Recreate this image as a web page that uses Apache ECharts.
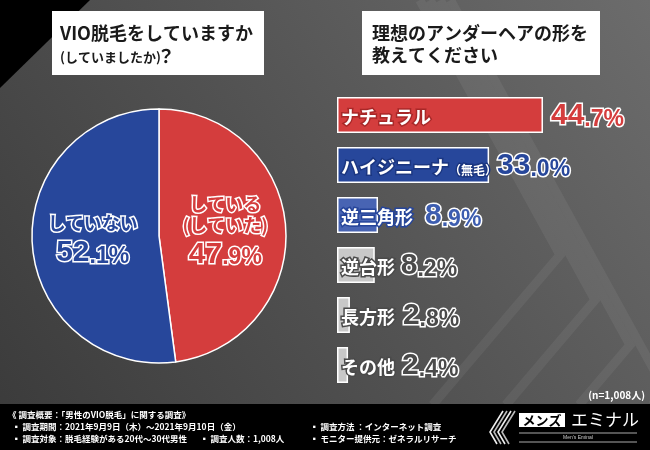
<!DOCTYPE html>
<html><head><meta charset="utf-8">
<script src="https://cdn.jsdelivr.net/npm/echarts@6/dist/echarts.min.js"></script>
<style>html,body{margin:0;padding:0;background:#4a4a4a}#c{width:650px;height:450px}</style>
</head><body><div id="c"></div>
<script>
// ---- data ----
const pieCategories = ['している\n(していた)', 'していない'];
const pieValues = [47.9, 52.1];
const barCategories = ['ナチュラル', 'ハイジニーナ（無毛）', '逆三角形', '逆台形', '長方形', 'その他'];
const barValues = [44.7, 33.0, 8.9, 8.2, 2.8, 2.4];
const sampleNote = '(n=1,008人)';
const leftTitle = ['VIO脱毛をしていますか', '(していましたか)', '？'];
const rightTitle = ['理想のアンダーヘアの形を', '教えてください'];
const footerLines = [
  '《 調査概要：「男性のVIO脱毛」に関する調査》',
  '▪ 調査期間：2021年9月9日（木）～2021年9月10日（金）',
  '▪ 調査対象：脱毛経験がある20代～30代男性',
  '▪ 調査人数：1,008人',
  '▪ 調査方法 ：インターネット調査',
  '▪ モニター提供元：ゼネラルリサーチ'
];

// ---- styles ----
const JP = '"Noto Sans CJK JP", sans-serif';
const NUM = '"Liberation Sans", "Noto Sans CJK JP", sans-serif';
const pieColors = ['#d43d3d', '#27479b'];
const barColors = ['#d43d3d', '#27479b', '#4864b3', '#c8c8c8', '#c8c8c8', '#c8c8c8'];
const nameStroke = ['#a82828', '#1b3680', '#26459a', '#4a4a4a', '#4a4a4a', '#4a4a4a'];
const valueFill = ['#d43d3d', '#27479b', '#3d5db0', '#4a4a4a', '#4a4a4a', '#4a4a4a'];
const valueGap = [8, 8, 47, 26, 53, 54];

function splitNum(v) {
  const s = v.toFixed(1).split('.');
  return [s[0], '.' + s[1] + '%'];
}

const pieRich = {};
pieColors.forEach((c, i) => {
  pieRich['n' + i] = {color: c, fontSize: 18, fontWeight: 'bold', fontFamily: JP, textBorderColor: '#fff', textBorderWidth: 3, lineHeight: 21};
  pieRich['b' + i] = {color: c, fontSize: 30, fontWeight: 'bold', fontFamily: NUM, textBorderColor: '#fff', textBorderWidth: 3, lineHeight: 34, verticalAlign: 'bottom'};
  pieRich['d' + i] = {color: c, fontSize: 23, fontWeight: 'bold', fontFamily: NUM, textBorderColor: '#fff', textBorderWidth: 3, lineHeight: 34, verticalAlign: 'bottom'};
});
const nameRich = {};
const valRich = {};
barCategories.forEach((c, i) => {
  nameRich['n' + i] = {color: '#fff', fontSize: 18, fontWeight: 'bold', fontFamily: JP, textBorderColor: nameStroke[i], textBorderWidth: 3, verticalAlign: 'bottom', lineHeight: 22};
  nameRich['s' + i] = {color: '#fff', fontSize: 12, fontWeight: 'bold', fontFamily: JP, textBorderColor: nameStroke[i], textBorderWidth: 3, verticalAlign: 'bottom', lineHeight: 22};
  valRich['i' + i] = {color: valueFill[i], fontSize: 30, fontWeight: 'bold', fontFamily: NUM, textBorderColor: '#fff', textBorderWidth: 3, verticalAlign: 'bottom', lineHeight: 32};
  valRich['d' + i] = {color: valueFill[i], fontSize: 23, fontWeight: 'bold', fontFamily: NUM, textBorderColor: '#fff', textBorderWidth: 3, verticalAlign: 'bottom', lineHeight: 32};
});

// background decorations
const deco = [];
deco.push({type: 'rect', z: -100, silent: true, shape: {x: 0, y: 0, width: 650, height: 450},
  style: {fill: {type: 'linear', x: 1, y: 0, x2: 0, y2: 1, colorStops: [{offset: 0, color: '#6c6c6c'}, {offset: 0.55, color: '#505050'}, {offset: 1, color: '#3a3a3a'}]}}});
for (let k = 0; k < 4; k++) {
  const vx = 560 + 35 * k, vy = 255 + 45 * k;
  deco.push({type: 'polyline', z: -90, silent: true,
    shape: {points: [[vx - 0.55 * vy, 0], [vx, vy], [vx - 0.85 * (405 - vy), 405]]},
    style: {stroke: 'rgba(255,255,255,0.06)', lineWidth: 9, fill: null}});
}
deco.push({type: 'polygon', z: -80, silent: true, shape: {points: [[0, 0], [90, 0], [0, 88]]}, style: {fill: '#000'}});
// title boxes
deco.push({type: 'rect', shape: {x: 52, y: 11, width: 212, height: 64}, style: {fill: '#fff'}});
deco.push({type: 'text', x: 60, y: 33, style: {text: leftTitle[0], fontSize: 18, fontWeight: 'bold', fontFamily: JP, fill: '#1a1a1a', verticalAlign: 'middle'}});
deco.push({type: 'text', x: 60, y: 57, style: {text: leftTitle[1], fontSize: 13, fontWeight: 'bold', fontFamily: JP, fill: '#1a1a1a', verticalAlign: 'middle'}});
deco.push({type: 'text', x: 157, y: 56, style: {text: leftTitle[2], fontSize: 18, fontWeight: 'bold', fontFamily: JP, fill: '#1a1a1a', verticalAlign: 'middle'}});
deco.push({type: 'rect', shape: {x: 362, y: 11, width: 238, height: 64}, style: {fill: '#fff'}});
deco.push({type: 'text', x: 372, y: 33, style: {text: rightTitle[0], fontSize: 18, fontWeight: 'bold', fontFamily: JP, fill: '#1a1a1a', verticalAlign: 'middle'}});
deco.push({type: 'text', x: 372, y: 55, style: {text: rightTitle[1], fontSize: 18, fontWeight: 'bold', fontFamily: JP, fill: '#1a1a1a', verticalAlign: 'middle'}});
// n note
deco.push({type: 'text', x: 645, y: 395, style: {text: sampleNote, fontSize: 10, fontWeight: 'bold', fontFamily: JP, fill: '#fff', align: 'right', verticalAlign: 'middle'}});
// footer
deco.push({type: 'rect', shape: {x: 0, y: 404, width: 650, height: 46}, style: {fill: '#000'}});
const footPos = [[8, 415], [12, 427], [12, 439], [200, 439], [310, 427], [310, 439]];
footerLines.forEach((t, i) => {
  deco.push({type: 'text', x: footPos[i][0], y: footPos[i][1], style: {text: t, fontSize: 8.5, fontWeight: 'bold', fontFamily: JP, fill: '#fff', verticalAlign: 'middle'}});
});
// logo
for (let k = 0; k < 4; k++) {
  deco.push({type: 'polyline', shape: {points: [[503 + 4 * k, 411], [490 + 4 * k, 432], [497 + 4 * k, 444]]}, style: {stroke: k % 2 ? '#bbb' : '#eee', lineWidth: 1.6, fill: null}});
}
deco.push({type: 'rect', shape: {x: 519, y: 413, width: 46, height: 14}, style: {fill: '#fff'}});
deco.push({type: 'text', x: 542, y: 420, style: {text: 'メンズ', fontSize: 13, fontWeight: 'bold', fontFamily: JP, fill: '#000', align: 'center', verticalAlign: 'middle'}});
deco.push({type: 'text', x: 571, y: 420, style: {text: 'エミナル', fontSize: 17, fontFamily: JP, fill: '#fff', verticalAlign: 'middle'}});
deco.push({type: 'line', shape: {x1: 519, y1: 433, x2: 637, y2: 433}, style: {stroke: '#aaa', lineWidth: 1}});
deco.push({type: 'text', x: 578, y: 438, style: {text: "Men's Eminal", fontSize: 5, fontFamily: NUM, fill: '#ccc', align: 'center', verticalAlign: 'middle'}});
deco.push({type: 'line', shape: {x1: 519, y1: 442, x2: 637, y2: 442}, style: {stroke: '#aaa', lineWidth: 1}});

const chart = echarts.init(document.getElementById('c'), null, {renderer: 'canvas'});
chart.setOption({
  animation: false,
  graphic: deco,
  grid: {left: 337, top: 90, width: 276.5, height: 300, containLabel: false},
  xAxis: {type: 'value', min: 0, max: 60, show: false},
  yAxis: {
    type: 'category', inverse: true, data: barCategories, z: 10,
    axisLine: {show: false}, axisTick: {show: false}, splitLine: {show: false},
    axisLabel: {
      inside: true, margin: 4, rich: nameRich,
      formatter: (v, idx) => {
        const m = v.match(/^(.*?)(（.*）)?$/);
        return '{n' + idx + '|' + m[1] + '}' + (m[2] ? '{s' + idx + '|' + m[2] + '}' : '');
      }
    }
  },
  series: [
    {
      type: 'pie', center: [159, 236], radius: 127, startAngle: 90, clockwise: true,
      silent: true, labelLine: {show: false},
      itemStyle: {borderColor: '#fff', borderWidth: 1.5},
      label: {show: true, position: 'inside', rich: pieRich,
        formatter: p => {
          const i = p.dataIndex; const n = splitNum(p.value);
          return p.name.split('\n').map(l => '{n' + i + '|' + l + '}').join('\n') + '\n{b' + i + '|' + n[0] + '}{d' + i + '|' + n[1] + '}';
        }},
      data: pieCategories.map((c, i) => ({name: c, value: pieValues[i], itemStyle: {color: pieColors[i]}}))
    },
    {
      type: 'bar', barWidth: 36, silent: true,
      itemStyle: {borderColor: '#fff', borderWidth: 1.5},
      label: {show: true, position: 'right', rich: valRich,
        formatter: p => { const i = p.dataIndex; const n = splitNum(p.value); return '{i' + i + '|' + n[0] + '}{d' + i + '|' + n[1] + '}'; }},
      data: barValues.map((v, i) => ({value: v, itemStyle: {color: barColors[i]}, label: {distance: valueGap[i]}}))
    }
  ]
});
</script></body></html>
